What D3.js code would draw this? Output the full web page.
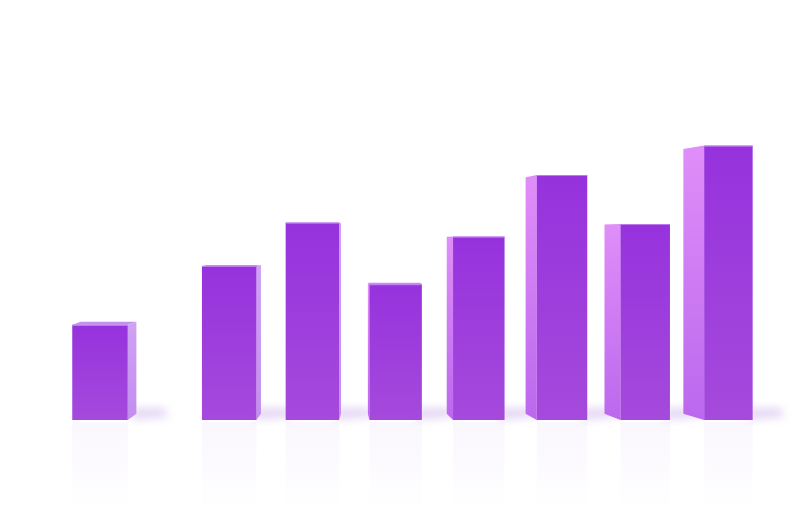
<!DOCTYPE html>
<html>
<head>
<meta charset="utf-8">
<script src="https://cdn.jsdelivr.net/npm/d3@7/dist/d3.min.js"></script>
<style>
  html, body { margin: 0; padding: 0; background: #ffffff; }
  svg { display: block; }
</style>
</head>
<body>
<svg id="chart" width="800" height="512"></svg>
<script>
// ---- data ----
const categories = ["A", "B", "C", "D", "E", "F", "G", "H"];
const values = [34, 55, 70.5, 48.5, 65.5, 87.5, 70, 98];
const valueDomain = [0, 100];

// ---- layout ----
const W = 800, H = 512;
const baseY = 420, topY = 140;
const firstCenter = 100, step = 83.2;
const firstGap = 46;          // extra space after the first bar
const baseWidth = 55.5, shrink = 0.018;   // perspective narrowing to the right
const vanishX = 370, vanishY = 240;
const sideKLeft = 0.032, sideKRight = 0.058, depthK = 0.035;

const svg = d3.select("#chart");

const x = d3.scalePoint().domain(categories)
  .range([firstCenter, firstCenter + step * (categories.length - 1)]);
const y = d3.scaleLinear().domain(valueDomain).range([baseY, topY]);
const xCenter = (c, i) => x(c) + (i > 0 ? firstGap : 0);

const defs = svg.append("defs");
const frontGrad = defs.append("linearGradient").attr("id", "front").attr("x1", 0).attr("y1", 0).attr("x2", 0).attr("y2", 1);
frontGrad.append("stop").attr("offset", "0%").attr("stop-color", "#9632dd");
frontGrad.append("stop").attr("offset", "100%").attr("stop-color", "#a54adc");
const sideL = defs.append("linearGradient").attr("id", "sideL").attr("x1", 0).attr("y1", 0).attr("x2", 0).attr("y2", 1);
sideL.append("stop").attr("offset", "0%").attr("stop-color", "#e08ef8");
sideL.append("stop").attr("offset", "100%").attr("stop-color", "#bb68ee");
const sideR = defs.append("linearGradient").attr("id", "sideR").attr("x1", 0).attr("y1", 0).attr("x2", 0).attr("y2", 1);
sideR.append("stop").attr("offset", "0%").attr("stop-color", "#cfa2f4");
sideR.append("stop").attr("offset", "100%").attr("stop-color", "#c28eee");
const refl = defs.append("linearGradient").attr("id", "refl").attr("x1", 0).attr("y1", 0).attr("x2", 0).attr("y2", 1);
refl.append("stop").attr("offset", "0%").attr("stop-color", "#b070e8").attr("stop-opacity", 0.06);
refl.append("stop").attr("offset", "100%").attr("stop-color", "#b070e8").attr("stop-opacity", 0);
defs.append("filter").attr("id", "blur").attr("x", "-50%").attr("y", "-50%").attr("width", "200%").attr("height", "200%")
  .append("feGaussianBlur").attr("stdDeviation", 4);

svg.append("rect").attr("width", W).attr("height", H).attr("fill", "#ffffff");

const bars = categories.map((c, i) => {
  const cx = xCenter(c, i);
  const w = baseWidth * (1 - shrink * i);
  const xl = cx - w / 2, xr = cx + w / 2;
  const t = y(values[i]);
  const off = cx - vanishX;
  const dx = -off * (off < 0 ? sideKLeft : sideKRight);
  const dyT = (vanishY - t) * depthK;
  const dyB = (vanishY - baseY) * depthK;
  return { c, i, xl, xr, cx, t, dx, dyT, dyB };
});

// reflections
svg.append("g").selectAll("rect").data(bars).join("rect")
  .attr("x", d => d.xl).attr("y", baseY + 2)
  .attr("width", d => d.xr - d.xl).attr("height", d => Math.min(90, baseY - d.t))
  .attr("fill", "url(#refl)");

// floor shadows
svg.append("g").selectAll("path").data(bars).join("path")
  .attr("d", d => {
    const xe = d.xr + Math.max(0, d.dx);
    return `M${xe - 4},${baseY} L${xe + 32},${baseY - 3} L${xe + 28},${baseY - 12} L${xe - 4},${baseY - 12} Z`;
  })
  .attr("fill", "#cdb0ea").attr("opacity", 0.5).attr("filter", "url(#blur)");

const g = svg.append("g").selectAll("g").data(bars).join("g");

// top face
g.filter(d => d.dyT < 0).append("path")
  .attr("d", d => `M${d.xl},${d.t} L${d.xr},${d.t} L${d.xr + d.dx},${d.t + d.dyT} L${d.xl + d.dx},${d.t + d.dyT} Z`)
  .attr("fill", "#c490ef");

// side face
g.append("path")
  .attr("d", d => {
    const xe = d.dx > 0 ? d.xr : d.xl;
    return `M${xe},${d.t} L${xe + d.dx},${d.t + d.dyT} L${xe + d.dx},${baseY + d.dyB} L${xe},${baseY} Z`;
  })
  .attr("fill", d => d.dx > 0 ? "url(#sideR)" : "url(#sideL)");

// front face
g.append("rect")
  .attr("x", d => d.xl).attr("y", d => d.t)
  .attr("width", d => d.xr - d.xl).attr("height", d => baseY - d.t)
  .attr("fill", "url(#front)");

// top edge highlight
g.append("line")
  .attr("x1", d => d.xl).attr("x2", d => d.xr)
  .attr("y1", d => d.t + 0.5).attr("y2", d => d.t + 0.5)
  .attr("stroke", "#c98cf2").attr("stroke-width", 1.2).attr("opacity", 0.8);
</script>
</body>
</html>
